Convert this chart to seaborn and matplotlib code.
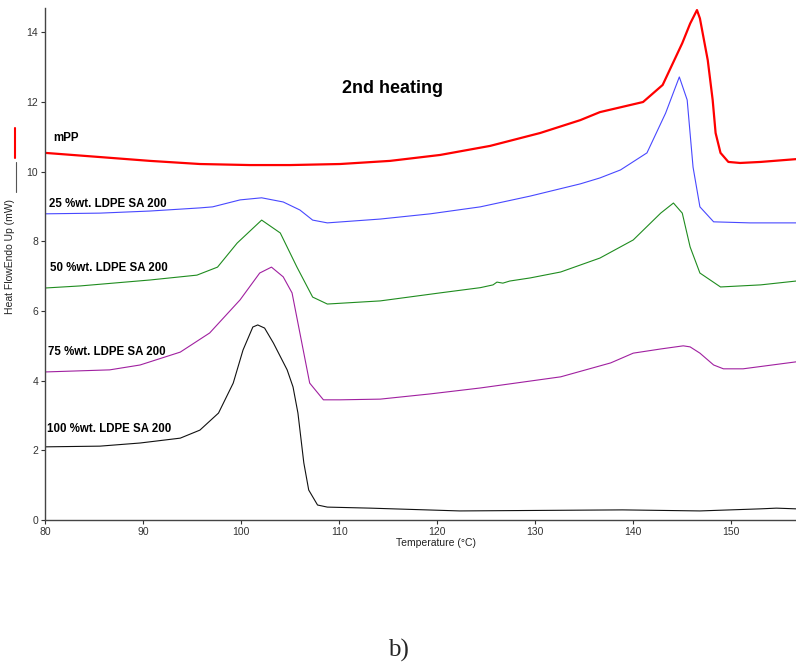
import numpy as np
import pandas as pd
import matplotlib.pyplot as plt
import seaborn as sns

# DSC thermograms, 2nd heating

temp_mpp = [80.0, 85.6, 90.7, 95.8, 100.9, 105.0, 110.1, 115.2, 120.3, 125.4, 130.5, 134.6, 136.6,
            141.0, 143.0, 145.0, 145.8, 146.5, 146.8, 147.6, 148.1, 148.4, 148.9, 149.7, 150.9, 153.0, 156.6]
hf_mpp = [10.54, 10.42, 10.31, 10.22, 10.19, 10.19, 10.22, 10.31, 10.48, 10.74, 11.11, 11.48, 11.71,
          12.00, 12.49, 13.69, 14.25, 14.64, 14.40, 13.20, 12.06, 11.11, 10.54, 10.28, 10.25, 10.28, 10.36]

temp_25 = [80.0, 85.6, 90.7, 95.8, 97.1, 99.9, 102.1, 104.3, 106.0, 107.3, 108.8, 114.2, 119.3, 124.4,
           129.5, 134.6, 136.6, 138.7, 141.4, 143.3, 144.7, 145.5, 146.1, 146.8, 148.2, 151.9, 156.6]
hf_25 = [8.79, 8.81, 8.87, 8.96, 8.99, 9.19, 9.25, 9.13, 8.90, 8.61, 8.53, 8.64, 8.79, 8.99,
         9.30, 9.65, 9.82, 10.05, 10.54, 11.68, 12.72, 12.06, 10.13, 8.99, 8.56, 8.53, 8.53]

temp_50 = [80.0, 83.6, 90.7, 95.5, 97.6, 99.6, 102.1, 104.0, 105.7, 107.3, 108.8, 114.2, 120.3, 124.4,
           125.7, 126.1, 126.7, 127.4, 129.5, 132.6, 136.6, 140.0, 142.8, 144.1, 145.0, 145.8, 146.8,
           148.9, 153.0, 156.6]
hf_50 = [6.66, 6.72, 6.89, 7.03, 7.26, 7.95, 8.61, 8.24, 7.26, 6.40, 6.20, 6.29, 6.52, 6.67,
         6.75, 6.83, 6.80, 6.86, 6.95, 7.12, 7.52, 8.04, 8.81, 9.10, 8.81, 7.84, 7.09,
         6.69, 6.75, 6.86]

temp_75 = [80.0, 86.6, 89.7, 93.8, 96.8, 99.9, 101.9, 103.1, 104.3, 105.2, 106.2, 107.0, 108.4, 110.1,
           114.2, 119.3, 124.4, 128.5, 132.6, 137.7, 140.0, 142.8, 145.1, 145.8, 146.8, 148.2, 149.2,
           151.2, 156.6]
hf_75 = [4.25, 4.31, 4.45, 4.82, 5.37, 6.32, 7.09, 7.26, 6.98, 6.52, 5.08, 3.93, 3.45, 3.45,
         3.47, 3.62, 3.79, 3.95, 4.11, 4.51, 4.79, 4.91, 5.00, 4.97, 4.79, 4.45, 4.34,
         4.34, 4.54]

temp_100 = [80.0, 85.6, 89.7, 93.8, 95.8, 97.7, 99.2, 100.2, 101.2, 101.7, 102.4, 103.3, 104.7, 105.3,
            105.8, 106.4, 106.9, 107.8, 108.8, 113.2, 122.3, 138.9, 146.8, 153.0, 154.6, 156.6]
hf_100 = [2.10, 2.12, 2.21, 2.35, 2.58, 3.07, 3.93, 4.88, 5.54, 5.60, 5.51, 5.08, 4.31, 3.82,
          3.07, 1.64, 0.86, 0.43, 0.37, 0.34, 0.26, 0.29, 0.26, 0.32, 0.34, 0.32]

labels = ["mPP", "25 %wt. LDPE SA 200", "50 %wt. LDPE SA 200",
          "75 %wt. LDPE SA 200", "100 %wt. LDPE SA 200"]
colors = ["#ff0000", "#4848ff", "#1f8c1f", "#a020a0", "#111111"]
widths = [1.6, 0.8, 0.8, 0.8, 0.8]

# label anchor (temperature, heat flow)
label_x = [80.8, 80.4, 80.5, 80.3, 80.2]
label_y = [10.97, 9.07, 7.24, 4.82, 2.60]

x_ticks = [80, 90, 100, 110, 120, 130, 140, 150]
y_ticks = [0, 2, 4, 6, 8, 10, 12, 14]

curves = [(temp_mpp, hf_mpp), (temp_25, hf_25), (temp_50, hf_50),
          (temp_75, hf_75), (temp_100, hf_100)]

sns.set_style("ticks")
plt.rcParams['font.family'] = ['Liberation Sans', 'DejaVu Sans']

fig = plt.figure(figsize=(7.96, 6.70), dpi=100)
ax = fig.add_axes([0.0565, 0.2239, 0.9435, 0.7642])

for (t, h), lab, c, lw in zip(curves, labels, colors, widths):
    df = pd.DataFrame({"Temperature": t, "HeatFlow": h})
    sns.lineplot(data=df, x="Temperature", y="HeatFlow", color=c, linewidth=lw, ax=ax)

for lab, lx, ly in zip(labels, label_x, label_y):
    ax.text(lx, ly, lab, fontsize=8.3, fontweight='bold', va='center', ha='left', color='black')

ax.text(115.4, 12.40, "2nd heating", fontsize=13, fontweight='bold', ha='center', va='center',
        color='black')

ax.set_xlim(80, 156.6)
ax.set_ylim(0, 14.7)
ax.set_xticks(x_ticks)
ax.set_yticks(y_ticks)
ax.tick_params(labelsize=7.5, length=3, width=0.8, pad=2, colors='#333333')

for side in ['top', 'right']:
    ax.spines[side].set_visible(False)
for side in ['left', 'bottom']:
    ax.spines[side].set_color('#444444')
    ax.spines[side].set_linewidth(1.0)

ax.set_xlabel("Temperature (°C)", fontsize=7.5, color='#222222')
ax.set_ylabel("Heat FlowEndo Up (mW)", fontsize=7.5, color='#222222')
ax.xaxis.set_label_coords(0.52, -0.035)
ax.yaxis.set_label_coords(-0.040, 0.514)

# little red / black key strokes beside the y label
ax.plot([-0.040, -0.040], [0.707, 0.766], color='#ff0000', lw=1.5,
        transform=ax.transAxes, clip_on=False)
ax.plot([-0.038, -0.038], [0.641, 0.700], color='#555555', lw=0.8,
        transform=ax.transAxes, clip_on=False)

fig.text(398 / 796, 1 - 650 / 670, "b)", fontsize=18, ha='center', va='center',
         family=['Liberation Serif', 'DejaVu Serif'])

plt.savefig("out.png", dpi=100)
